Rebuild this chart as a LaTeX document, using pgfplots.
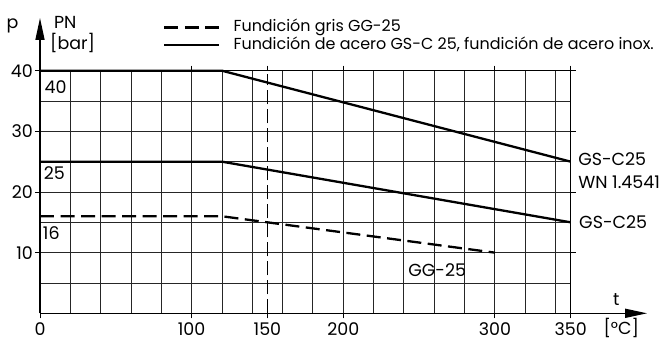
\documentclass[border=0pt]{standalone}
\usepackage{pgfplots}
\pgfplotsset{compat=1.18}
\usepackage{fontspec}
\setmainfont{Poppins}
\usetikzlibrary{arrows.meta}
\newcommand{\fs}{\fontsize{16}{18}\selectfont}
\newcommand{\fl}{\fontsize{17.5}{19}\selectfont}
\begin{document}
\begin{tikzpicture}[x=1bp,y=1bp]
\path[use as bounding box] (-40,-27.7) rectangle (620,313.3);
\begin{axis}[
  at={(0,0)}, anchor=south west, scale only axis,
  width=530.7bp, height=242.6bp,
  xmin=0, xmax=350, ymin=0, ymax=40,
  clip=false,
  axis line style={line width=0.9bp},
  xtick={0,100,150,200,300,350},
  minor xtick={20,40,...,340},
  ytick={10,20,30,40},
  minor ytick={5,15,25,35},
  xmajorgrids=false, xminorgrids=true,
  ymajorgrids=true, yminorgrids=true,
  grid style={black!85, line width=0.9bp},
  minor grid style={black!85, line width=0.9bp},
  tick align=outside,
  major tick length=5bp, minor tick length=0pt,
  xtick style={black, line width=0.9bp},
  ytick style={black, line width=0.9bp},
  /pgf/number format/assume math mode=true,
  tick label style={font=\fl},
  xticklabel style={anchor=north, inner sep=0pt, text depth=0pt, yshift=-4bp},
  yticklabel style={inner xsep=2bp},
  legend style={at={(axis description cs:0.2318,1.07)}, anchor=south west,
    draw=none, fill=none, inner sep=0pt, row sep=0.5bp, font=\fs,
    nodes={inner sep=1bp, text height=11.5bp, text depth=3.5bp},
    /tikz/every odd column/.append style={column sep=12bp}},
  legend cell align=left,
  legend image code/.code={\draw[#1] (0bp,0bp) -- (55bp,0bp);},
]
% GG-25
\addplot[black, line width=2.3bp, dash pattern=on 14bp off 6.5bp] coordinates {(0,16) (120,16) (300,10)};
\addlegendentry{Fundición gris GG-25}
% GS-C25 / WN 1.4541
\addplot[black, line width=2.3bp] coordinates {(0,40) (120,40) (350,25)};
\addlegendentry{Fundición de acero GS-C 25, fundición de acero inox.}
% GS-C25
\addplot[black, line width=2.3bp, forget plot] coordinates {(0,25) (120,25) (350,15)};
% t = 150
\addplot[black, line width=1bp, dash pattern=on 14bp off 5bp, forget plot] coordinates {(150,0) (150,39.5)};

\draw[line width=1.5bp, -{Triangle[length=22bp,width=9bp]}] (axis cs:0,0) -- (axis cs:0,48.7);
\draw[line width=1.5bp, -{Triangle[length=22bp,width=9bp]}] (axis cs:0,0) -- (axis cs:400.4,0);

\node[font=\fl, anchor=west, inner sep=0pt] at (axis cs:3.0,37.3) {40};
\node[font=\fl, anchor=west, inner sep=0pt] at (axis cs:2.4,23.1) {25};
\node[font=\fl, anchor=west, inner sep=0pt] at (axis cs:1.8,13.2) {16};
\node[font=\fl, anchor=west, inner sep=0pt] at (axis cs:354.9,25.4) {GS-C25};
\node[font=\fl, anchor=west, inner sep=0pt] at (axis cs:354.9,21.6) {WN 1.4541};
\node[font=\fl, anchor=west, inner sep=0pt] at (axis cs:355.5,15.0) {GS-C25};
\node[font=\fl, inner sep=0pt] at (axis cs:261.9,7.1) {GG-25};
\node[font=\fl, anchor=base, inner sep=0pt] at (axis cs:380,1.3) {t};
\node[font=\fl, inner sep=0pt] at (axis cs:383.3,-2.5) {[\textdegree C]};
\node[font=\fl, anchor=base, inner sep=0pt] at (axis cs:-18.1,46.9) {p};
\node[font=\fl, anchor=base west, inner sep=0pt, align=left] at (axis cs:9.2,46.9) {PN};
\node[font=\fl, anchor=base west, inner sep=0pt] at (axis cs:6.6,43.5) {[bar]};
\end{axis}
\end{tikzpicture}
\end{document}
